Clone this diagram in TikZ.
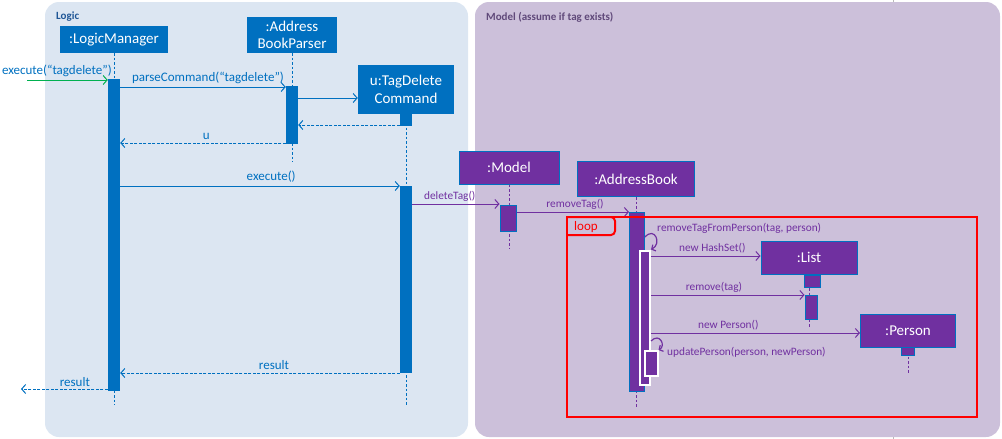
\documentclass[tikz,border=0pt]{standalone}
\usepackage{fontspec}
\setmainfont{Carlito}
\usepackage{tikz}
\usetikzlibrary{positioning, arrows.meta}
\definecolor{LogicBg}{RGB}{220,230,242}
\definecolor{ModelBg}{RGB}{204,192,218}
\definecolor{LogicBlue}{RGB}{0,112,192}
\definecolor{ModelPurple}{RGB}{112,48,160}
\definecolor{LogicTitle}{RGB}{31,86,150}
\definecolor{ModelTitle}{RGB}{96,73,122}
\definecolor{FoundGreen}{RGB}{0,176,80}
\definecolor{LoopRed}{RGB}{255,0,0}
\newcommand{\boxfont}{\fontsize{15}{17.5}\selectfont}
\newcommand{\logicmsgfont}{\fontsize{13}{15}\selectfont}
\newcommand{\modelmsgfont}{\fontsize{11.3}{13}\selectfont}
\newcommand{\areafont}{\fontsize{11}{13}\selectfont\bfseries}
\tikzstyle{lmsg} = [LogicBlue, line width=1pt, -{Straight Barb[length=4pt, width=9pt]}]
\tikzstyle{lreply} = [lmsg, dash pattern=on 3pt off 1.5pt]
\tikzstyle{foundmsg} = [FoundGreen, line width=1pt, -{Straight Barb[length=4pt, width=9pt]}]
\tikzstyle{mmsg} = [ModelPurple, line width=1pt, -{Straight Barb[length=4pt, width=9pt]}]
\tikzstyle{selfcall} = [ModelPurple, line width=1.2pt, -{Straight Barb[length=3pt, width=7pt]}]
\tikzset{
  logicobj/.style={rectangle, fill=LogicBlue, text=white, inner sep=0pt, align=center, font=\boxfont},
  modelobj/.style={rectangle, fill=ModelPurple, draw=LogicBlue, line width=1pt, text=white, inner sep=0pt, align=center, font=\boxfont},
  logicbar/.style={rectangle, fill=LogicBlue, inner sep=0pt, anchor=north},
  modelbar/.style={rectangle, fill=ModelPurple, draw=LogicBlue, line width=1pt, inner sep=0pt, anchor=north},
  nestbar/.style={rectangle, fill=ModelPurple, draw=white, line width=2pt, inner sep=0pt, anchor=north},
  lifeline/.style={dash pattern=on 2.5pt off 2pt, line width=0.9pt},
  lmlabel/.style={text=LogicBlue, font=\logicmsgfont, inner sep=1pt},
  mmlabel/.style={text=ModelPurple, font=\modelmsgfont, inner sep=1pt}
}
\begin{document}
\begin{tikzpicture}[x=1pt, y=-1pt]
  \useasboundingbox (0,0) rectangle (1002,439);

  % Stray guide line behind the frames
  \draw[gray!55, line width=0.6pt] (893,0) -- (893,439);

  % Logic and Model areas
  \fill[LogicBg, rounded corners=14pt] (45,2) rectangle (468,437);
  \fill[ModelBg, rounded corners=14pt] (475,2) rectangle (1000,437);
  \node[anchor=west, inner sep=0pt, text=LogicTitle, font=\areafont] (logicttl) at (56,17) {Logic};
  \node[anchor=west, inner sep=0pt, text=ModelTitle, font=\areafont] (modelttl) at (486,17) {Model (assume if tag exists)};

  % Objects
  \node[logicobj, minimum width=108pt, minimum height=27pt] (lm) at (114,39.5) {:LogicManager};
  \node[logicobj, minimum width=90pt, minimum height=36pt] (abp) at (292,35) {:Address\\BookParser};
  \node[logicobj, minimum width=96pt, minimum height=49pt] (tdc) at (406,89.5) {u:TagDelete\\Command};
  \node[modelobj, minimum width=100pt, minimum height=33pt] (model) at (509,167.5) {:Model};
  \node[modelobj, minimum width=117pt, minimum height=35pt] (ab) at (636,179) {:AddressBook};
  \node[modelobj, minimum width=96pt, minimum height=33pt] (list) at (809,257.5) {:List};
  \node[modelobj, minimum width=95pt, minimum height=33pt] (person) at (908,330.5) {:Person};

  % Lifelines
  \draw[lifeline, LogicBlue] (lm.south) -- (lm.south |- 0,405);
  \draw[lifeline, LogicBlue] (abp.south) -- (abp.south |- 0,162);
  \draw[lifeline, LogicBlue] (tdc.south) -- (tdc.south |- 0,405);
  \draw[lifeline, ModelPurple] (model.south) -- (model.south |- 0,249);
  \draw[lifeline, ModelPurple] (ab.south) -- (ab.south |- 0,407);
  \draw[lifeline, ModelPurple] (list.south) -- (list.south |- 0,328);
  \draw[lifeline, ModelPurple] (person.south) -- (person.south |- 0,373);

  % Activation bars
  \node[logicbar, minimum width=12pt, minimum height=312pt] (lmbar) at (114,79) {};
  \node[logicbar, minimum width=12pt, minimum height=58pt] (abpbar) at (292,86) {};
  \node[logicbar, minimum width=12pt, minimum height=12pt] (tdcbar0) at (406,114) {};
  \node[logicbar, minimum width=12pt, minimum height=187pt] (tdcbar) at (406,186) {};
  \node[modelbar, minimum width=16pt, minimum height=26pt] (modelbar) at (508,205) {};
  \node[modelbar, minimum width=15pt, minimum height=179pt] (abbar) at (637,212) {};
  \node[nestbar, minimum width=10pt, minimum height=134pt] (nest1) at (645,249.5) {};
  \node[nestbar, minimum width=13pt, minimum height=25pt] (nest2) at (651,350) {};
  \node[modelbar, minimum width=16pt, minimum height=12pt] (listbar0) at (812,275) {};
  \node[modelbar, minimum width=12pt, minimum height=24pt] (listbar) at (811,295) {};
  \node[modelbar, minimum width=13pt, minimum height=8pt] (personbar0) at (908,347) {};

  % Logic messages
  \coordinate (caller) at (27,80);
  \coordinate (returnee) at (21,389);
  \draw[foundmsg] (caller) -- (lmbar.west |- caller)
    node[lmlabel, above=2pt, pos=0.37] {execute(“tagdelete”)};
  \draw[lmsg] (lmbar.east |- 0,87) -- (abpbar.west |- 0,87)
    node[lmlabel, above=2pt, pos=0.53] {parseCommand(“tagdelete”)};
  \draw[lmsg] (abpbar.east |- 0,98) -- (tdc.west |- 0,98);
  \draw[lreply] (tdcbar0.west |- 0,125) -- (abpbar.east |- 0,125);
  \draw[lreply] (abpbar.west |- 0,143) -- (lmbar.east |- 0,143)
    node[lmlabel, above=2pt, pos=0.48] {u};
  \draw[lmsg] (lmbar.east |- 0,186) -- (tdcbar.west |- 0,186)
    node[lmlabel, above=2pt, pos=0.54] {execute()};
  \draw[lreply] (tdcbar.west |- 0,373) -- (lmbar.east |- 0,373)
    node[lmlabel, above=2pt, pos=0.45] {result};
  \draw[lreply] (lmbar.west |- returnee) -- (returnee)
    node[lmlabel, above=1pt, pos=0.38] {result};

  % Model messages
  \draw[mmsg] (tdcbar.east |- 0,204) -- (modelbar.west |- 0,204)
    node[mmlabel, above=1pt, pos=0.43] {deleteTag()};
  \draw[mmsg] (modelbar.east |- 0,212) -- (abbar.west |- 0,212)
    node[mmlabel, above=1pt, pos=0.52] {removeTag()};
  \draw[selfcall] (abbar.east |- 0,237) .. controls (655,226) and (662,244) .. (nest1.north east);
  \node[mmlabel, anchor=west] (rtfp) at (656,228) {removeTagFromPerson(tag, person)};
  \draw[mmsg] (nest1.east |- 0,256) -- (list.west |- 0,256)
    node[mmlabel, above=1pt, pos=0.56] {new HashSet()};
  \draw[mmsg] (nest1.east |- 0,295) -- (listbar.west |- 0,295)
    node[mmlabel, above=1pt, pos=0.41] {remove(tag)};
  \draw[mmsg] (nest1.east |- 0,333) -- (person.west |- 0,333)
    node[mmlabel, above=1pt, pos=0.37] {new Person()};
  \draw[selfcall] (nest1.east |- 0,341) .. controls (660,332) and (666,346) .. (nest2.north east);
  \node[mmlabel, anchor=west] (upd) at (666,352) {updatePerson(person, newPerson)};

  % Loop frame
  \draw[LoopRed, line width=2pt] (567,217) rectangle (977,417);
  \draw[LoopRed, line width=2pt, rounded corners=4pt] (567,217) -- (615,217) -- (615,235) -- (567,235);
  \node[anchor=west, inner sep=0pt, text=LoopRed, font=\logicmsgfont] (looplbl) at (574,227) {loop};
\end{tikzpicture}
\end{document}
